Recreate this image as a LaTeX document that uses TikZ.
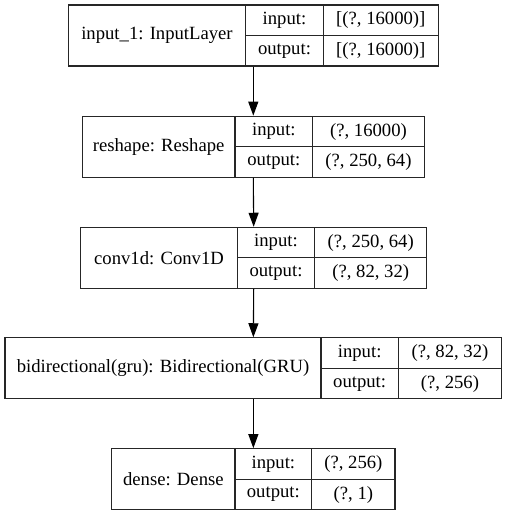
\documentclass[tikz,border=0pt]{standalone}
\usepackage{fontspec}
\setmainfont{Liberation Serif}
\usetikzlibrary{arrows.meta}
\newcommand\kerasbox[9]{%
  \node[layerbox, minimum width={(#3)-(#2)}] (#1) at ({(#2+#3)/2},{#4+30.5}) {};
  \draw[cellline] (#5,#4) -- (#5,#4+61);
  \draw[cellline] (#6,#4) -- (#6,#4+61);
  \draw[cellline] (#5,#4+30.5) -- (#3,#4+30.5);
  \node[txt] (#1-name) at ({(#2+#5)/2},{#4+30.5}) {#7};
  \node[txt] (#1-inlab) at ({(#5+#6)/2},{#4+15.5}) {input:};
  \node[txt] (#1-outlab) at ({(#5+#6)/2},{#4+46}) {output:};
  \node[txt] (#1-in) at ({(#6+#3)/2},{#4+15.5}) {#8};
  \node[txt] (#1-out) at ({(#6+#3)/2},{#4+46}) {#9};
}
\begin{document}
\begin{tikzpicture}[x=1pt,y=-1pt,
  layerbox/.style={draw=black!85, line width=1.1pt, minimum height=61pt, inner sep=0pt},
  cellline/.style={draw=black!85, line width=1.1pt},
  txt/.style={inner sep=0pt, font=\fontsize{18.67}{22}\selectfont},
  conn/.style={draw=black, line width=1.1pt, -{Triangle[length=14pt,width=10pt]}}]
\useasboundingbox (0,0) rectangle (507,516);
\fill[white] (0,0) rectangle (507,516);
\kerasbox{b1}{68.3}{438.3}{5}{245.7}{323.3}{input\_1: InputLayer}{[(?, 16000)]}{[(?, 16000)]}
\kerasbox{b2}{82.3}{424.3}{116.2}{235}{312.7}{reshape: Reshape}{(?, 16000)}{(?, 250, 64)}
\kerasbox{b3}{80.7}{426.7}{227.3}{237.3}{314.7}{conv1d: Conv1D}{(?, 250, 64)}{(?, 82, 32)}
\kerasbox{b4}{5}{501.7}{337.8}{321}{398.3}{bidirectional(gru): Bidirectional(GRU)}{(?, 82, 32)}{(?, 256)}
\kerasbox{b5}{111.7}{395}{448.7}{235}{311.7}{dense: Dense}{(?, 256)}{(?, 1)}
\draw[conn] (b1.south) -- (b2.north);
\draw[conn] (b2.south) -- (b3.north);
\draw[conn] (b3.south) -- (b4.north);
\draw[conn] (b4.south) -- (b5.north);
\end{tikzpicture}
\end{document}
